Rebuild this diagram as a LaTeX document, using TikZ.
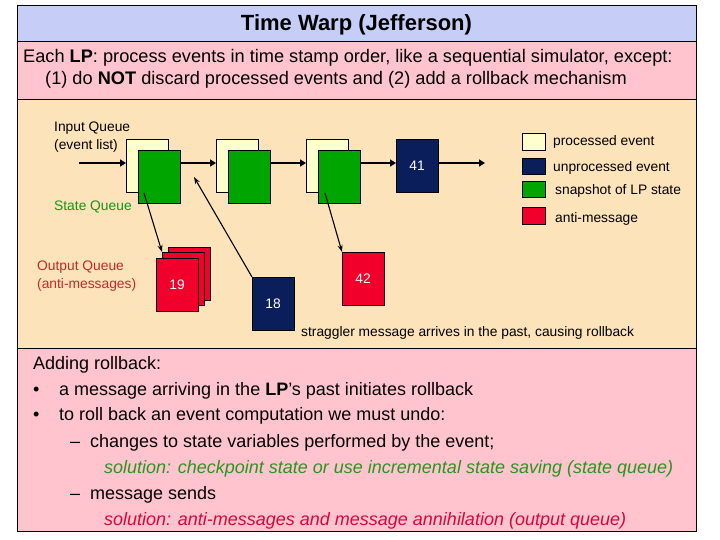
\documentclass[tikz,border=0pt]{standalone}
\usepackage{fontspec}
\setmainfont{Liberation Sans}
\usetikzlibrary{arrows.meta}
\definecolor{titlebg}{RGB}{198,205,246}
\definecolor{pinkbg}{RGB}{255,196,206}
\definecolor{beigebg}{RGB}{252,227,186}
\definecolor{creamc}{RGB}{255,255,204}
\definecolor{greenc}{RGB}{0,165,0}
\definecolor{navyc}{RGB}{10,30,92}
\definecolor{redc}{RGB}{240,0,42}
\definecolor{outqc}{RGB}{200,40,40}
\definecolor{stateqc}{RGB}{20,150,20}
\definecolor{solgreen}{RGB}{40,150,30}
\definecolor{solred}{RGB}{210,10,60}
\tikzset{
  panel/.style={draw=black, line width=0.8pt, inner sep=0, outer sep=0, anchor=north west},
  evbox/.style={draw=black, line width=0.6pt, inner sep=0, outer sep=0, anchor=north west,
     minimum width=42pt, minimum height=53pt, text=white, font=\fontsize{13.8}{16}\selectfont},
  harrow/.style={line width=2.6pt, -{Triangle[length=6pt,width=7pt]}},
  darrow/.style={line width=1.1pt, -{Stealth[length=7pt,width=5pt]}},
  small/.style={font=\fontsize{13.8}{18}\selectfont, inner sep=0, anchor=base west},
  big/.style={font=\fontsize{18}{22}\selectfont, inner sep=0, anchor=base west},
}
\begin{document}
\begin{tikzpicture}[x=1pt,y=-1pt]
\useasboundingbox (0,0) rectangle (720,540);
\fill[white] (0,0) rectangle (720,540);
% panels
\node[panel, fill=titlebg, minimum width=679pt, minimum height=36pt] (ptitle) at (17,5) {};
\node[panel, fill=pinkbg, minimum width=679pt, minimum height=58pt] (psub) at (17,41) {};
\node[panel, fill=beigebg, minimum width=679pt, minimum height=249pt] (pmid) at (17,99) {};
\node[panel, fill=pinkbg, minimum width=679pt, minimum height=183pt] (pbot) at (17,348) {};
% title
\node[font=\fontsize{22}{26}\selectfont\bfseries, inner sep=0, anchor=base] (title) at (356.5,31) {Time Warp (Jefferson)};
\node[big, font=\fontsize{18.2}{22}\selectfont] (sub1) at (23,63) {Each \textbf{LP}: process events in time stamp order, like a sequential simulator, except:};
\node[big, font=\fontsize{18.2}{22}\selectfont] (sub2) at (45,85) {(1) do \textbf{NOT} discard processed events and (2) add a rollback mechanism};
% labels in middle panel
\node[small] (inq1) at (54,131.5) {Input Queue};
\node[small] (inq2) at (54,149.5) {(event list)};
\node[small, text=stateqc] (stq) at (54,210.5) {State Queue};
\node[small, text=outqc] (outq1) at (37,270.5) {Output Queue};
\node[small, text=outqc] (outq2) at (37,288.5) {(anti-messages)};
% event boxes
\node[evbox, fill=creamc] (c1) at (126,139) {};
\node[evbox, fill=greenc] (g1) at (138,150) {};
\node[evbox, fill=creamc] (c2) at (216,139) {};
\node[evbox, fill=greenc] (g2) at (228,150) {};
\node[evbox, fill=creamc] (c3) at (306,139) {};
\node[evbox, fill=greenc] (g3) at (318,150) {};
\node[evbox, fill=navyc] (e41) at (396,139) {41};
% output queue stack
\node[evbox, fill=redc] (o3) at (168,247) {};
\node[evbox, fill=redc] (o2) at (162,252) {};
\node[evbox, fill=redc] (o1) at (156,258) {19};
\node[evbox, fill=navyc] (e18) at (252,277) {18};
\node[evbox, fill=redc] (r42) at (342,252) {42};
% horizontal arrows
\coordinate (hstart) at (79,163);
\coordinate (hend) at (485,163);
\draw[harrow] (hstart) -- (hstart -| c1.west);
\draw[harrow] (g1.east |- hstart) -- (c2.west |- hstart);
\draw[harrow] (g2.east |- hstart) -- (c3.west |- hstart);
\draw[harrow] (g3.east |- hstart) -- (e41.west |- hstart);
\draw[harrow] (e41.east |- hstart) -- (hend);
% diagonal arrows
\coordinate (s1) at (144,193);
\coordinate (s3) at (325,193);
\coordinate (t18) at (194,177);
\draw[darrow] (s1) -- (o2.north west);
\draw[darrow] (e18.north west) -- (t18);
\draw[darrow] (s3) -- (r42.north west);
\node[small] (strag) at (301,336.5) {straggler message arrives in the past, causing rollback};
% legend
\node[panel, draw=black, line width=0.6pt, fill=creamc, minimum width=23pt, minimum height=17pt] (lg1) at (522,133) {};
\node[panel, draw=black, line width=0.6pt, fill=navyc, minimum width=23pt, minimum height=16pt] (lg2) at (522,158) {};
\node[panel, draw=black, line width=0.6pt, fill=greenc, minimum width=23pt, minimum height=16pt] (lg3) at (522,181) {};
\node[panel, draw=black, line width=0.6pt, fill=redc, minimum width=23pt, minimum height=17pt] (lg4) at (522,207) {};
\node[small] (lt1) at (553,145.5) {processed event};
\node[small] (lt2) at (553,171.5) {unprocessed event};
\node[small] (lt3) at (555,194.5) {snapshot of LP state};
\node[small] (lt4) at (555,222.5) {anti-message};
% bottom text
\node[big] (b0) at (33,369) {Adding rollback:};
\node[big] (bu1) at (33,395) {•};
\node[big] (b1) at (59,395) {a message arriving in the \textbf{LP}’s past initiates rollback};
\node[big] (bu2) at (33,420) {•};
\node[big] (b2) at (59,420) {to roll back an event computation we must undo:};
\node[big] (d1) at (70,447) {–};
\node[big] (b3) at (90,447) {changes to state variables performed by the event;};
\node[big, text=solgreen] (b4) at (104,473) {\itshape solution: checkpoint state or use incremental state saving (state queue)};
\node[big] (d2) at (70,499) {–};
\node[big] (b5) at (90,499) {message sends};
\node[big, text=solred] (b6) at (104,525) {\itshape solution: anti-messages and message annihilation (output queue)};
\end{tikzpicture}
\end{document}
